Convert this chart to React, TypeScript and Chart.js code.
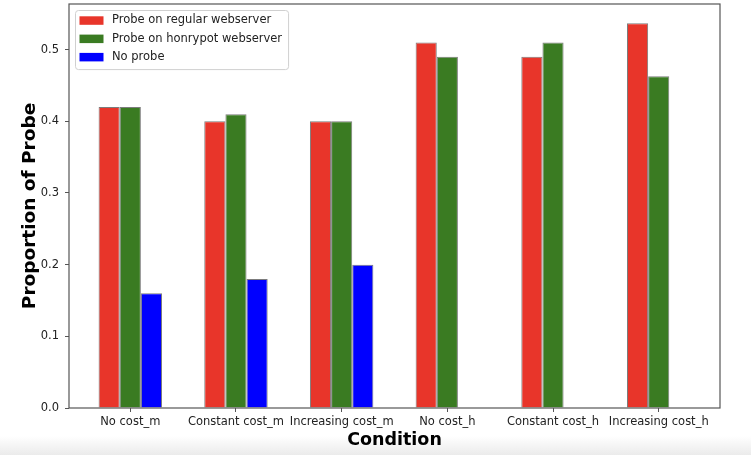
import React, { useEffect, useRef } from "react";
import { Chart, registerables } from "chart.js";

Chart.register(...registerables);

const categories = [
  "No cost_m",
  "Constant cost_m",
  "Increasing cost_m",
  "No cost_h",
  "Constant cost_h",
  "Increasing cost_h",
];
const seriesLabels = [
  "Probe on regular webserver",
  "Probe on honrypot webserver",
  "No probe",
];
const regularValues = [0.42, 0.4, 0.4, 0.51, 0.49, 0.537];
const honeypotValues = [0.42, 0.41, 0.4, 0.49, 0.51, 0.463];
const noProbeValues = [0.16, 0.18, 0.2, 0, 0, 0];
const yTicks = [0, 0.1, 0.2, 0.3, 0.4, 0.5];

const COLORS = ["#e8352a", "#3a7b22", "#0000ff"];
const FONT = "'DejaVu Sans', sans-serif";

const framePlugin = {
  id: "frame",
  afterDatasetsDraw(chart: any) {
    const { ctx, chartArea } = chart;
    ctx.save();
    ctx.strokeStyle = "#555";
    ctx.lineWidth = 1.2;
    ctx.strokeRect(chartArea.left, chartArea.top, chartArea.right - chartArea.left, chartArea.bottom - chartArea.top);
    ctx.restore();
  },
};

const legendPlugin = {
  id: "insideLegend",
  afterDraw(chart: any) {
    const { ctx, chartArea } = chart;
    const ds = chart.data.datasets;
    ctx.save();
    ctx.font = `11.5px ${FONT}`;
    let maxW = 0;
    ds.forEach((d: any) => {
      maxW = Math.max(maxW, ctx.measureText(d.label).width);
    });
    const x0 = chartArea.left + 6;
    const y0 = chartArea.top + 6;
    const rowH = 18.3;
    const w = 4.5 + 24 + 8.5 + maxW + 6;
    const h = 10.5 + rowH * (ds.length - 1) + 12;
    ctx.fillStyle = "rgba(255,255,255,0.85)";
    ctx.strokeStyle = "#d0d0d0";
    ctx.lineWidth = 1;
    ctx.beginPath();
    (ctx as any).roundRect(x0 + 0.5, y0 + 0.5, w, h, 3);
    ctx.fill();
    ctx.stroke();
    ds.forEach((d: any, i: number) => {
      const cy = y0 + 10.5 + rowH * i;
      ctx.fillStyle = d.backgroundColor;
      ctx.fillRect(x0 + 4.5, cy - 4.2, 24, 8.5);
      ctx.fillStyle = "#222";
      ctx.textBaseline = "middle";
      ctx.textAlign = "left";
      ctx.fillText(d.label, x0 + 4.5 + 24 + 8.5, cy);
    });
    ctx.restore();
  },
};

export default function App() {
  const ref = useRef<HTMLCanvasElement | null>(null);
  useEffect(() => {
    document.body.style.margin = "0";
    const canvas = ref.current;
    if (!canvas) return;
    const seriesValues = [regularValues, honeypotValues, noProbeValues];
    const chart = new Chart(canvas, {
      type: "bar",
      data: {
        datasets: seriesValues.map((vals, k) => ({
          label: seriesLabels[k],
          data: vals.map((v, i) => ({ x: i, y: v })),
          backgroundColor: COLORS[k],
          borderColor: "rgba(110,110,110,0.9)",
          borderWidth: 1,
          borderSkipped: "bottom",
          categoryPercentage: 0.6,
          barPercentage: 1,
        })),
      },
      options: {
        animation: false,
        responsive: false,
        devicePixelRatio: 1,
        layout: { padding: { top: 4, right: 31, left: 0, bottom: 0 } },
        plugins: { legend: { display: false }, tooltip: { enabled: false } },
        scales: {
          x: {
            type: "linear",
            offset: false,
            min: -0.58,
            max: 5.58,
            afterFit: (s: any) => {
              s.height = 47;
              s.paddingLeft = 0;
              s.paddingRight = 0;
            },
            afterBuildTicks: (s: any) => {
              s.ticks = categories.map((_, i) => ({ value: i }));
            },
            grid: { display: true, drawOnChartArea: false, drawTicks: true, tickLength: 4, color: "#555", offset: false },
            border: { display: false },
            ticks: {
              autoSkip: false,
              maxRotation: 0,
              padding: 3,
              color: "#222",
              font: { family: FONT, size: 11.5 },
              callback: (v: any) => categories[Math.round(v)] ?? "",
            },
            title: {
              display: true,
              text: "Condition",
              color: "#000",
              font: { family: FONT, size: 17.5, weight: "bold" },
              padding: { top: 0, bottom: 4.5 },
            },
          },
          y: {
            min: 0,
            max: 0.5637,
            afterFit: (s: any) => {
              s.width = 69;
              s.paddingTop = 0;
              s.paddingBottom = 0;
            },
            afterBuildTicks: (s: any) => {
              s.ticks = yTicks.map((v) => ({ value: v }));
            },
            grid: { display: true, drawOnChartArea: false, drawTicks: true, tickLength: 4, color: "#555" },
            border: { display: false },
            ticks: {
              padding: 6,
              color: "#222",
              font: { family: FONT, size: 11.5 },
              callback: (v: any) => Number(v).toFixed(1),
            },
            title: {
              display: true,
              text: "Proportion of Probe",
              color: "#000",
              font: { family: FONT, size: 18.5, weight: "bold" },
              padding: { top: 19, bottom: 0 },
            },
          },
        },
      },
      plugins: [framePlugin, legendPlugin],
    });
    return () => chart.destroy();
  }, []);
  return (
    <div
      style={{
        position: "fixed",
        left: 0,
        top: 0,
        width: 751,
        height: 455,
        background: "linear-gradient(to bottom, #ffffff 0px, #ffffff 436px, #ebebeb 455px)",
      }}
    >
      <canvas ref={ref} width={751} height={455} />
    </div>
  );
}
